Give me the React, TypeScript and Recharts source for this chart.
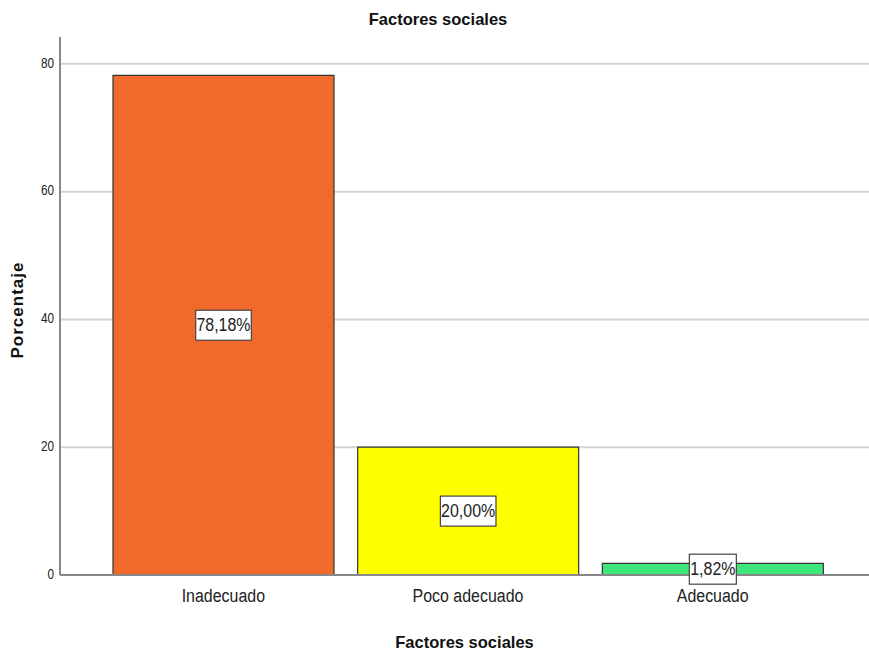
import React from 'react';
import { BarChart, Bar, XAxis, YAxis, CartesianGrid, Cell, LabelList, Label } from 'recharts';

const categories = ['Inadecuado', 'Poco adecuado', 'Adecuado'];
const percentages = [78.18, 20.0, 1.82];
const barColors = ['#F26A2B', '#FFFF00', '#3DE67A'];
const yTicks = [0, 20, 40, 60, 80];

const data = categories.map((name, i) => ({ name, value: percentages[i] }));

const sans = "'Liberation Sans', Arial, sans-serif";

// condensed text: regular sans squeezed horizontally around its anchor
const Narrow = ({ x, y, anchor, size, children }: any) => (
  <text
    x={0}
    y={0}
    transform={`translate(${x}, ${y}) scale(0.84, 1)`}
    textAnchor={anchor}
    dominantBaseline="middle"
    fontFamily={sans}
    fontSize={size}
    fill="#222"
  >
    {children}
  </text>
);

const XTick = (props: any) => {
  const { x, y, payload } = props;
  return <Narrow x={x} y={y + 14} anchor="middle" size={19}>{payload.value}</Narrow>;
};

const YTick = (props: any) => {
  const { x, y, payload } = props;
  return <Narrow x={x + 6} y={y} anchor="end" size={14}>{payload.value}</Narrow>;
};

// boxed percentage label, centred on the bar
const BoxLabel = (props: any) => {
  const { x, y, width, height, value } = props;
  const cx = x + width / 2;
  const cy = y + height / 2;
  const text = `${Number(value).toFixed(2).replace('.', ',')}%`;
  const w = text.length * 8.6 + 4;
  const h = 30;
  return (
    <g>
      <rect x={cx - w / 2} y={cy - h / 2} width={w} height={h} fill="#fff" stroke="#444" strokeWidth={1.2} />
      <Narrow x={cx} y={cy + 1} anchor="middle" size={19}>{text}</Narrow>
    </g>
  );
};

const YTitle = (props: any) => {
  const { viewBox } = props;
  const x = 19;
  const y = viewBox.y + viewBox.height / 2 + 4;
  return (
    <text x={x} y={y} transform={`rotate(-90, ${x}, ${y})`} textAnchor="middle" dominantBaseline="middle"
      fontFamily={sans} fontWeight="bold" fontSize={17} letterSpacing={1} fill="#111">
      Porcentaje
    </text>
  );
};

const App: React.FC = () => {
  return (
    <div style={{ position: 'absolute', left: 0, top: 0, width: 869, height: 655, background: '#fff' }}>
      <div style={{ position: 'absolute', left: 0, width: 876, top: 10, textAlign: 'center', fontFamily: sans, fontWeight: 'bold', fontSize: 16.5, color: '#111' }}>
        Factores sociales
      </div>
      <BarChart width={869} height={655} data={data} margin={{ top: 37, right: 0, bottom: 0, left: 20 }}>
        <CartesianGrid vertical={false} horizontalValues={yTicks} stroke="#d4d4d4" strokeWidth={2} />
        <XAxis
          dataKey="name"
          height={80}
          padding={{ left: 41, right: 34 }}
          tickLine={false}
          axisLine={{ stroke: '#888', strokeWidth: 2 }}
          tick={<XTick />}
        >
          <Label value="Factores sociales" position="insideBottom" offset={7}
            style={{ fontFamily: sans, fontWeight: 'bold', fontSize: 16.5, fill: '#111' }} />
        </XAxis>
        <YAxis
          width={40}
          domain={[0, 84.2]}
          ticks={yTicks}
          tickLine={false}
          axisLine={{ stroke: '#888', strokeWidth: 2 }}
          tick={<YTick />}
          tickMargin={6}
        >
          <Label content={<YTitle />} />
        </YAxis>
        <Bar dataKey="value" barSize={221} stroke="#333" strokeWidth={1.2} isAnimationActive={false}>
          {data.map((d, i) => (
            <Cell key={d.name} fill={barColors[i]} />
          ))}
          <LabelList dataKey="value" content={<BoxLabel />} />
        </Bar>
      </BarChart>
    </div>
  );
};

export default App;
